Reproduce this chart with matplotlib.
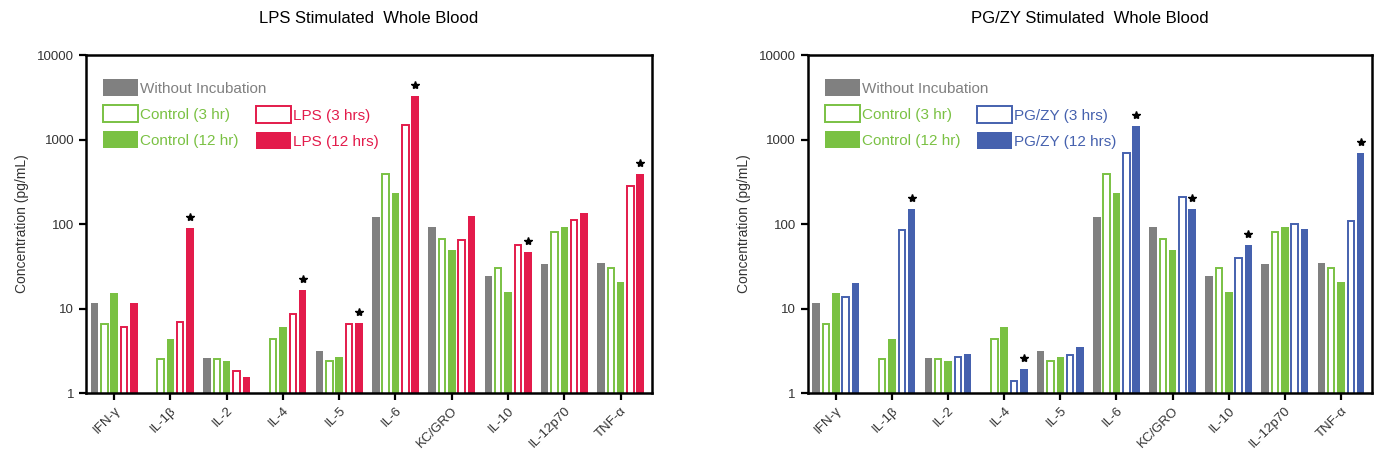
"""Cytokine concentrations in stimulated whole blood (LPS vs PG/ZY)."""
import numpy as np
import matplotlib
matplotlib.use("Agg")
import matplotlib.pyplot as plt
from matplotlib.patches import Patch

plt.rcParams["font.family"] = ["Liberation Sans", "DejaVu Sans"]

cytokines = ["IFN-γ", "IL-1β", "IL-2", "IL-4", "IL-5", "IL-6", "KC/GRO", "IL-10", "IL-12p70", "TNF-α"]

# shared baseline / control series
without_inc = [11.5, np.nan, 2.6, np.nan, 3.1, 122, 93, 24.3, 34, 34.8]
control_3h = [6.5, 2.5, 2.5, 4.4, 2.4, 390, 67, 30.4, 80, 30]
control_12h = [15.1, 4.4, 2.4, 6.0, 2.7, 231, 49, 15.8, 93, 20.6]

lps_3h = [6.0, 7.0, 1.8, 8.5, 6.6, 1480, 65, 56, 111, 282]
lps_12h = [11.5, 89, 1.56, 16.6, 6.7, 3300, 124, 46.6, 134, 390]
lps_sig = [1, 3, 4, 5, 7, 9]

pgzy_3h = [13.6, 85, 2.7, 1.4, 2.8, 687, 207, 40, 100, 108]
pgzy_12h = [19.9, 151, 2.9, 1.92, 3.5, 1460, 152, 57, 87, 698]
pgzy_sig = [1, 3, 5, 6, 7, 9]

GREY = "#808080"
GREEN = "#7ac143"
RED = "#e31b4b"
BLUE = "#4561ae"


def draw_panel(ax, stim_3h, stim_12h, sig, color, name, title):
    x = np.arange(len(cytokines))
    step, w = 0.175, 0.135
    series = [
        (without_inc, GREY, True),
        (control_3h, GREEN, False),
        (control_12h, GREEN, True),
        (stim_3h, color, False),
        (stim_12h, color, True),
    ]
    for i, (vals, c, filled) in enumerate(series):
        pos = x + (i - 2) * step
        if filled:
            ax.bar(pos, vals, width=w, color=c, edgecolor="none")
        else:
            ax.bar(pos, vals, width=w - 0.02, facecolor="white", edgecolor=c, linewidth=1.4)

    ax.set_yscale("log")
    ax.set_ylim(1, 10000)
    ax.set_xlim(-0.5, len(cytokines) - 0.45)
    ax.set_yticks([1, 10, 100, 1000, 10000])
    ax.set_yticklabels(["1", "10", "100", "1000", "10000"])
    ax.yaxis.set_minor_locator(matplotlib.ticker.NullLocator())
    ax.set_xticks(x)
    ax.set_xticklabels(cytokines, rotation=45, ha="right", rotation_mode="anchor", fontsize=9.5)
    ax.tick_params(axis="both", direction="out", length=5, width=1.6, labelsize=9.5,
                   labelcolor="#333333")
    for sp in ax.spines.values():
        sp.set_linewidth(1.8)
    ax.set_ylabel("Concentration (pg/mL)", fontsize=10, color="#333333", labelpad=6)
    ax.set_title(title, fontsize=12, pad=23)

    # significance stars above the 12 h stimulated bars
    sx = x[sig] + 2 * step
    sy = np.array(stim_12h)[sig] * 1.35
    ax.plot(sx, sy, linestyle="none", marker="*", markersize=6, color="black")

    h1 = [
        Patch(facecolor=GREY, edgecolor="none", label="Without Incubation"),
        Patch(facecolor="white", edgecolor=GREEN, linewidth=1.4, label="Control (3 hr)"),
        Patch(facecolor=GREEN, edgecolor="none", label="Control (12 hr)"),
    ]
    h2 = [
        Patch(facecolor="white", edgecolor=color, linewidth=1.4, label=f"{name} (3 hrs)"),
        Patch(facecolor=color, edgecolor="none", label=f"{name} (12 hrs)"),
    ]
    common = dict(loc="upper left", frameon=False, fontsize=11, borderpad=0,
                  borderaxespad=0, handlelength=2.3, handleheight=1.4,
                  handletextpad=0.15, labelspacing=0.55)
    leg1 = ax.legend(handles=h1, bbox_to_anchor=(0.03, 0.93), **common)
    for t, c in zip(leg1.get_texts(), [GREY, GREEN, GREEN]):
        t.set_color(c)
    ax.add_artist(leg1)
    leg2 = ax.legend(handles=h2, bbox_to_anchor=(0.30, 0.85), **common)
    for t in leg2.get_texts():
        t.set_color(color)


fig = plt.figure(figsize=(13.76, 4.61), dpi=100)
ax1 = fig.add_axes([0.0625, 0.1475, 0.411, 0.733])
ax2 = fig.add_axes([0.587, 0.1475, 0.410, 0.733])

draw_panel(ax1, lps_3h, lps_12h, lps_sig, RED, "LPS", "LPS Stimulated  Whole Blood")
draw_panel(ax2, pgzy_3h, pgzy_12h, pgzy_sig, BLUE, "PG/ZY", "PG/ZY Stimulated  Whole Blood")

fig.savefig("out.png", dpi=100)
